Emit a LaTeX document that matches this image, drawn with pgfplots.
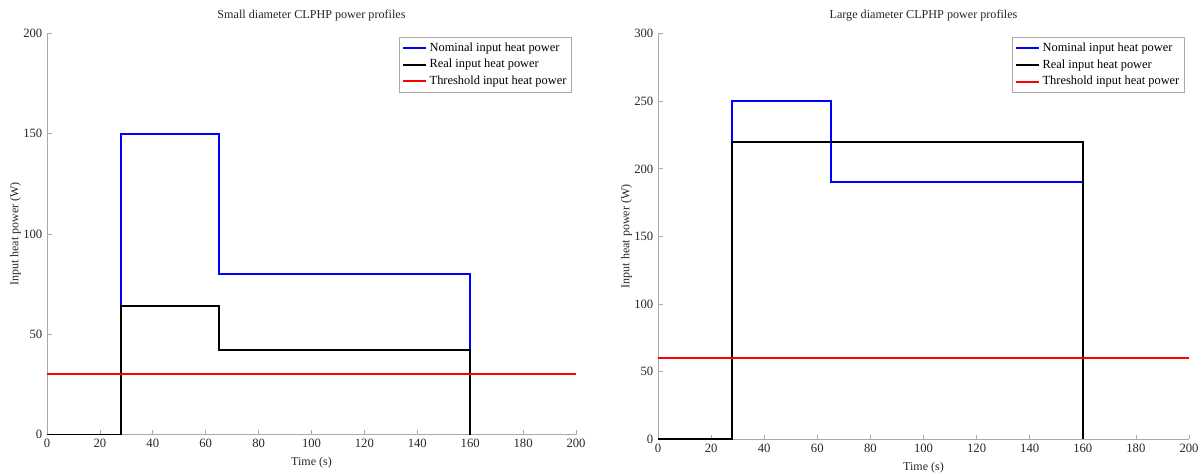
\documentclass[border=0pt]{standalone}
\usepackage{fontspec}
\setmainfont{Liberation Serif}
\usepackage{pgfplots}
\pgfplotsset{compat=1.18}
\definecolor{axgray}{RGB}{170,170,170}
\pgfplotsset{myax/.style={
  scale only axis,
  xmin=0, xmax=200, ymin=0,
  axis x line=bottom, axis y line=left,
  axis line style={-, draw=axgray, line width=0.6pt},
  tick align=inside, major tick length=3.5pt,
  tick style={draw=axgray, line width=0.6pt},
  xtick={0,20,...,200},
  /pgf/number format/assume math mode=true,
  tick label style={font=\fontsize{9.5}{11}\selectfont, text=black!85},
  label style={font=\fontsize{9}{11}\selectfont, text=black!85},
  title style={font=\fontsize{9.1}{11}\selectfont, text=black!85},
  xlabel={Time (s)}, ylabel={Input heat power (W)},
  ylabel style={at={(axis description cs:-0.0595,0.5)}, anchor=center},
  legend style={at={(0.9924,0.991)}, anchor=north east, draw=axgray,
    font=\fontsize{9.3}{11}\selectfont, legend cell align=left,
    row sep=0.6pt, inner xsep=2pt, inner ysep=2pt},
  every axis plot/.append style={line width=1.5pt},
}}
\begin{document}
\begin{tikzpicture}
\useasboundingbox (0,0) rectangle (902.25pt,356.25pt);
\begin{axis}[myax, at={(35.25pt,30.3pt)}, anchor=south west,
  width=396.75pt, height=300.9pt, ymax=200, ytick={0,50,...,200},
  title={Small diameter CLPHP power profiles}]
\addplot[blue, const plot] coordinates {(0,0) (28,0) (28,150) (65,150) (65,80) (160,80) (160,0)};
\addplot[black, const plot] coordinates {(0,0) (28,0) (28,64) (65,64) (65,42) (160,42) (160,0)};
\addplot[red] coordinates {(0,30) (200,30)};
\legend{Nominal input heat power, Real input heat power, Threshold input heat power}
\end{axis}
\begin{axis}[myax, at={(493.5pt,26.8pt)}, anchor=south west,
  width=398.25pt, height=304.2pt, ymax=300, ytick={0,50,...,300},
  title={Large diameter CLPHP power profiles}]
\addplot[blue, const plot] coordinates {(0,0) (28,0) (28,250) (65,250) (65,190) (160,190) (160,0)};
\addplot[black, const plot] coordinates {(0,0) (28,0) (28,220) (160,220) (160,0)};
\addplot[red] coordinates {(0,60) (200,60)};
\legend{Nominal input heat power, Real input heat power, Threshold input heat power}
\end{axis}
\end{tikzpicture}
\end{document}
